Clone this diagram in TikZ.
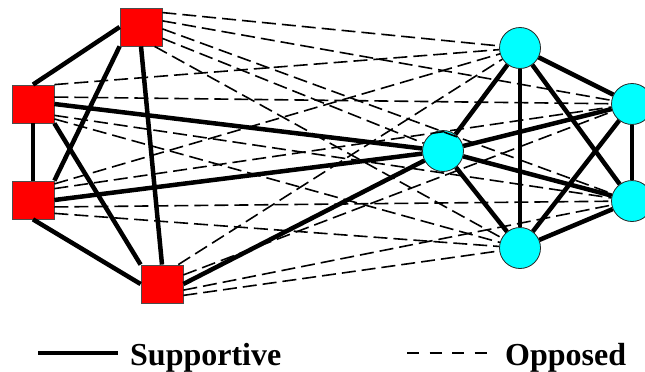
\documentclass[tikz,border=0pt]{standalone}
\usepackage{fontspec}
\setmainfont{Liberation Serif}
\usepackage{tikz}
\definecolor{sqred}{RGB}{255,0,0}
\definecolor{ciaqua}{RGB}{0,255,255}

\begin{document}
\begin{tikzpicture}[x=1pt, y=-1pt,
    sq/.style={draw=black!70, line width=0.8pt, fill=sqred, minimum width=42pt, minimum height=38pt, inner sep=0pt},
    ci/.style={circle, draw=black!85, line width=0.8pt, fill=ciaqua, minimum size=41pt, inner sep=0pt},
    sup/.style={line width=4.5pt},
    opp/.style={line width=1.6pt, dash pattern=on 14pt off 6pt},
    legtext/.style={anchor=base west, inner sep=0pt, font=\bfseries\fontsize{32}{38}\selectfont}]
    \useasboundingbox (0,0) rectangle (645,372);

    % Red group
    \node[sq] (s1) at (141,27) {};
    \node[sq] (s2) at (33,104) {};
    \node[sq] (s3) at (33,200) {};
    \node[sq] (s4) at (162,284) {};

    % Cyan group
    \node[ci] (c1) at (520,48) {};
    \node[ci] (c2) at (632,104) {};
    \node[ci] (c3) at (443,151) {};
    \node[ci] (c4) at (632,201) {};
    \node[ci] (c5) at (520,248) {};

    % Supportive ties inside the red group
    \draw[sup] (s1.west) -- (s2.north);
    \draw[sup] (s1.south west) -- (s3.north east);
    \draw[sup] (s1.south) -- (s4.north);
    \draw[sup] (s2.south) -- (s3.north);
    \draw[sup] (s2.south east) -- (s4.north west);
    \draw[sup] (s3.south) -- (s4.west);

    % Supportive ties inside the cyan group
    \draw[sup] (c1) -- (c2);
    \draw[sup] (c1) -- (c3);
    \draw[sup] (c1) -- (c4);
    \draw[sup] (c1) -- (c5);
    \draw[sup] (c2) -- (c3);
    \draw[sup] (c2) -- (c4);
    \draw[sup] (c2) -- (c5);
    \draw[sup] (c3) -- (c4);
    \draw[sup] (c3) -- (c5);
    \draw[sup] (c4) -- (c5);

    % Supportive ties across
    \draw[sup] (s2.east) -- (c3);
    \draw[sup] (s3.east) -- (c3);
    \draw[sup] (s4.east) -- (c3);

    % Opposed ties across
    \draw[opp] (s1.34) -- (c1);
    \draw[opp] (s1.16) -- (c2);
    \draw[opp] (s1.-5) -- (c4);
    \draw[opp] (s1.-28) -- (c3);
    \draw[opp] (s1.-55) -- (c5);
    \draw[opp] (s2.north east) -- (c1);
    \draw[opp] (s2.18) -- (c2);
    \draw[opp] (s2.-28) -- (c4);
    \draw[opp] (s2.-35) -- (c5);
    \draw[opp] (s3.37) -- (c1);
    \draw[opp] (s3.28) -- (c2);
    \draw[opp] (s3.-18) -- (c4);
    \draw[opp] (s3.-32) -- (c5);
    \draw[opp] (s4.50) -- (c1);
    \draw[opp] (s4.23) -- (c2);
    \draw[opp] (s4.-16) -- (c4);
    \draw[opp] (s4.-28) -- (c5);

    % Legend
    \coordinate (supa) at (38,353);
    \coordinate (supb) at (118,353);
    \coordinate (oppa) at (407,353);
    \coordinate (oppb) at (487,353);
    \draw[line width=3.4pt] (supa) -- (supb);
    \draw[line width=2pt, dash pattern=on 12pt off 10.5pt] (oppa) -- (oppb);
    \node[legtext] (suplabel) at (130,365) {Supportive};
    \node[legtext] (opplabel) at (505,365) {Opposed};
\end{tikzpicture}
\end{document}
